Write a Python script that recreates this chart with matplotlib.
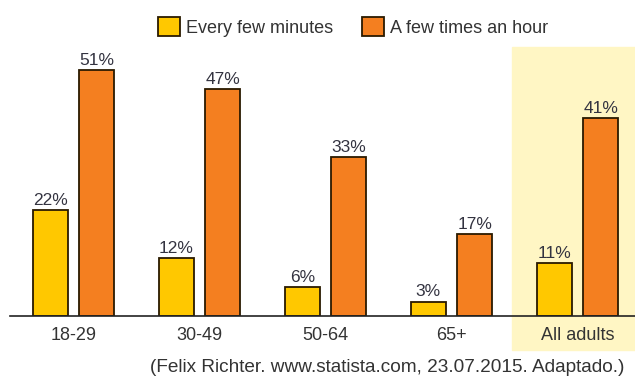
import matplotlib.pyplot as plt
import numpy as np

plt.rcParams['font.family'] = ['Liberation Sans', 'DejaVu Sans']

groups = ['18-29', '30-49', '50-64', '65+', 'All adults']
every_few_minutes = [22, 12, 6, 3, 11]
few_times_hour = [51, 47, 33, 17, 41]

W, H = 635, 378
base = 316          # baseline pixel row
ppu = 4.82          # pixels per percent
fig = plt.figure(figsize=(W / 100, H / 100), dpi=100)
ax = fig.add_axes([0, (H - base) / H, 1, base / H])

x = np.arange(len(groups))
width = 0.278
off = 0.185
ax.set_xlim(-73.5 / 126, (W - 73.5) / 126)
ax.set_ylim(0, base / ppu)

# highlight band for "All adults"
ax.axvspan((512 - 73.5) / 126, 5, ymin=(base - 350) / base, ymax=(base - 47) / base,
           color='#fff6c4', zorder=0, clip_on=False)

b1 = ax.bar(x - off, every_few_minutes, width, color='#ffc800', edgecolor='#2a1a00',
            linewidth=1.3, label='Every few minutes', zorder=2)
b2 = ax.bar(x + off, few_times_hour, width, color='#f47f20', edgecolor='#2a1a00',
            linewidth=1.3, label='A few times an hour', zorder=2)

for bars in (b1, b2):
    for r in bars:
        ax.text(r.get_x() + r.get_width() / 2, r.get_height() + 0.5, f'{int(r.get_height())}%',
                ha='center', va='bottom', fontsize=12.5, color='#333340')

for s in ['top', 'left', 'right']:
    ax.spines[s].set_visible(False)
ax.spines['bottom'].set_bounds((10 - 73.5) / 126, (W - 73.5) / 126)
ax.spines['bottom'].set_linewidth(1.2)
ax.spines['bottom'].set_color('#222222')
ax.set_yticks([])
ax.set_xticks(x)
ax.set_xticklabels(groups, fontsize=13, color='#333333')
ax.tick_params(axis='x', length=0, pad=8)

fig.legend(loc='upper left', bbox_to_anchor=(142 / W, 1 - 1 / H), ncol=2, frameon=False,
           fontsize=13, handlelength=1.2, handleheight=1.2, columnspacing=1.6,
           handletextpad=0.35, labelcolor='#333333')

fig.text(150 / W, 1 - 368 / H, '(Felix Richter. www.statista.com, 23.07.2015. Adaptado.)',
         fontsize=13.7, color='#333333', va='center', ha='left')

plt.savefig('out.png', dpi=100)
